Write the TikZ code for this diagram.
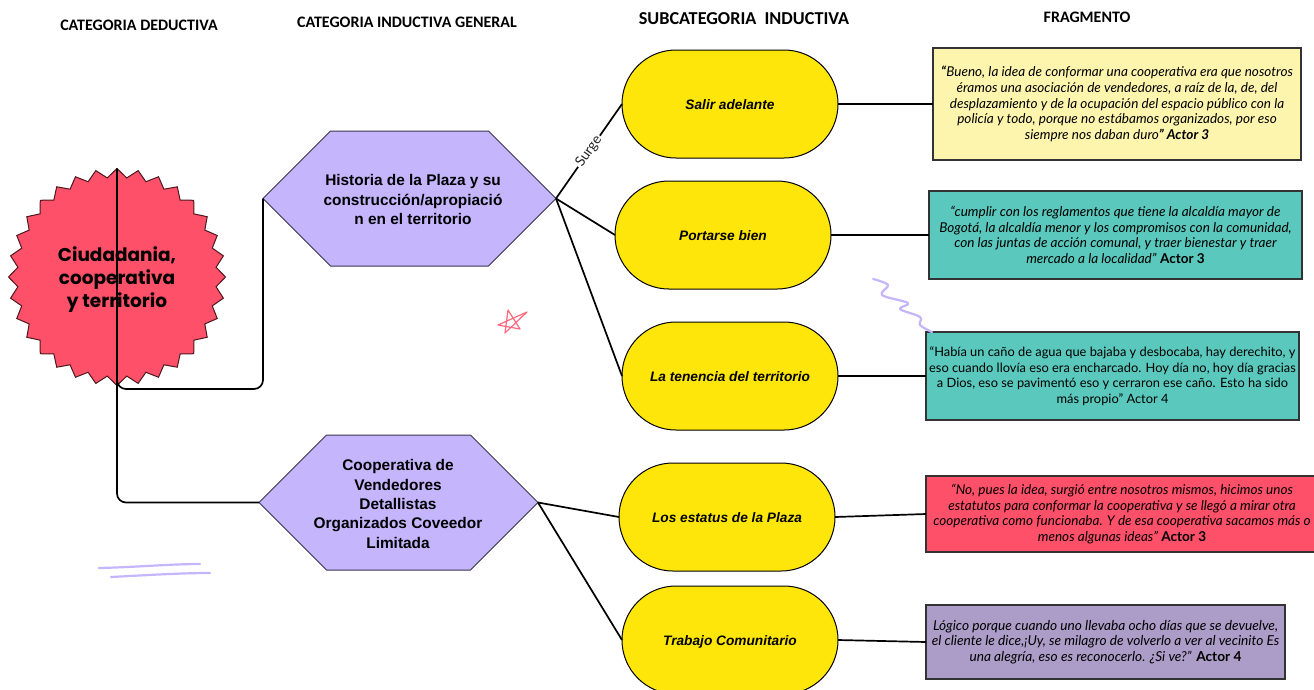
\documentclass[tikz,border=0pt]{standalone}
\usepackage{fontspec}
\setmainfont{Lato}
\newfontfamily\headfont{Carlito}
\newfontfamily\sealfont{Poppins}
\newfontfamily\labelfont{Liberation Sans}
\usetikzlibrary{shapes.geometric,shapes.symbols}
\definecolor{sealred}{HTML}{FE5068}
\definecolor{ovalyellow}{HTML}{FFE60A}
\definecolor{hexlilac}{HTML}{C4B5FD}
\definecolor{paleyellow}{HTML}{FDF5AE}
\definecolor{quoteteal}{HTML}{5AC8BC}
\definecolor{quotepurple}{HTML}{AC9CC8}
\definecolor{inkgray}{HTML}{333333}
\tikzset{
  head/.style={font=\headfont\bfseries\fontsize{16}{18}\selectfont},
  seal/.style={star, star points=32, star point ratio=1.09, minimum size=217, inner sep=0, outer sep=0,
    draw=black!70!sealred, line width=1, fill=sealred},
  sealtext/.style={align=center, inner sep=0, font=\sealfont\bfseries\fontsize{18.5}{23}\selectfont},
  hexa/.style={signal, signal to=west and east, signal pointer angle=90, inner sep=0, outer sep=0,
    draw=black!70!hexlilac, line width=1, fill=hexlilac, minimum height=135},
  hexatext/.style={align=center, inner sep=0, font=\labelfont\bfseries\fontsize{15.4}{19.4}\selectfont},
  oval/.style={rectangle, rounded corners=53.9, minimum width=216, minimum height=108, inner sep=0, outer sep=0,
    draw=black, line width=1, fill=ovalyellow, align=center, text height=14, text depth=3,
    font=\labelfont\bfseries\itshape\fontsize{13.7}{16}\selectfont},
  quotebox/.style={rectangle, inner sep=0, outer sep=0, draw=inkgray, line width=2, align=center,
    execute at begin node={\rule{0pt}{16pt}},
    font=\fontsize{13.55}{15.6}\selectfont},
  link/.style={draw=black, line width=1.7},
  doodle/.style={draw=hexlilac, line width=2.2, line cap=round, line join=round}
}
\begin{document}
\begin{tikzpicture}[x=1pt,y=-1pt]
  \useasboundingbox (0,0) rectangle (1314,689);
  \node [head] (headded) at (139,25) {CATEGORIA DEDUCTIVA};
  \node [head] (headind) at (407,22) {CATEGORIA INDUCTIVA GENERAL};
  \node [head, font=\headfont\bfseries\fontsize{18.2}{20}\selectfont] (headsub) at (744,19) {SUBCATEGORIA\ \ INDUCTIVA};
  \node [head] (headfra) at (1087,17) {FRAGMENTO};

  \node [seal] (ciudadania) at (117,277) {};
  \node [sealtext] (ciudadaniatext) at (117,280) {Ciudadania,\\cooperativa\\y territorio};
  \node [hexa, minimum width=293] (historia) at (409.5,198.5) {};
  \node [hexatext] (historiatext) at (413,199.5)
    {Historia de la Plaza y su\\construcción/apropiació\\n en el territorio};
  \node [hexa, minimum width=279] (cooperativa) at (398.5,502.5) {};
  \node [hexatext] (cooperativatext) at (398,504)
    {Cooperativa de\\Vendedores\\Detallistas\\Organizados Coveedor\\Limitada};

  \node [oval] (salir) at (730,104) {Salir adelante};
  \node [oval] (portarse) at (723,235) {Portarse bien};
  \node [oval] (tenencia) at (730,376) {La tenencia del territorio};
  \node [oval] (estatus) at (727,517) {Los estatus de la Plaza};
  \node [oval] (trabajo) at (730,640) {Trabajo Comunitario};

  \node [quotebox, fill=paleyellow, minimum width=368, minimum height=112] (fraga) at (1117,104)
    {\textbf{\textit{“}}\textit{Bueno, la idea de conformar una cooperativa era que nosotros}\\
     \textit{éramos una asociación de vendedores, a raíz de la, de, del}\\
     \textit{desplazamiento y de la ocupación del espacio público con la}\\
     \textit{policía y todo, porque no estábamos organizados, por eso}\\
     \textit{siempre nos daban duro}\textbf{\textit{” Actor 3}}};
  \node [quotebox, fill=quoteteal, minimum width=373, minimum height=88] (fragb) at (1115.5,235)
    {\textit{“cumplir con los reglamentos que tiene la alcaldía mayor de}\\
     \textit{Bogotá, la alcaldía menor y los compromisos con la comunidad,}\\
     \textit{con las juntas de acción comunal, y traer bienestar y traer}\\
     \textit{mercado a la localidad”} \textbf{Actor 3}};
  \node [quotebox, fill=quoteteal, minimum width=373, minimum height=88,
    font=\fontsize{12.85}{15.6}\selectfont] (fragc) at (1112.5,376)
    {“Había un caño de agua que bajaba y desbocaba, hay derechito, y\\
     eso cuando llovía eso era encharcado. Hoy día no, hoy día gracias\\
     a Dios, eso se pavimentó eso y cerraron ese caño. Esto ha sido\\
     más propio” Actor 4};
  \node [quotebox, fill=sealred, minimum width=392, minimum height=76] (fragd) at (1122,514)
    {\textit{“No, pues la idea, surgió entre nosotros mismos, hicimos unos}\\
     \textit{estatutos para conformar la cooperativa y se llegó a mirar otra}\\
     \textit{cooperativa como funcionaba. Y de esa cooperativa sacamos más o}\\
     \textit{menos algunas ideas”} \textbf{Actor 3}};
  \node [quotebox, fill=quotepurple, minimum width=359, minimum height=74,
    font=\fontsize{13.7}{15.6}\selectfont] (frage) at (1105.5,642)
    {\textit{Lógico porque cuando uno llevaba ocho días que se devuelve,}\\
     \textit{el cliente le dice,¡Uy, se milagro de volverlo a ver al vecinito Es}\\
     \textit{una alegría, eso es reconocerlo. ¿Si ve?”} \textbf{Actor 4}};

  \coordinate (turn) at (263,389);
  \draw [link, rounded corners=9] (ciudadania.north) |- (cooperativa.west);
  \draw [link, rounded corners=9] (ciudadania.south) |- (turn) -- (historia.west);
  \draw [link] (historia.east) -- node [sloped, fill=white, inner sep=1.5, text=black!85,
    font=\fontsize{14}{15}\selectfont] (surge) {Surge} (salir.west);
  \draw [link] (historia.east) -- (portarse.west);
  \draw [link] (historia.east) -- (tenencia.west);
  \draw [link] (cooperativa.east) -- (estatus.west);
  \draw [link] (cooperativa.east) -- (trabajo.west);
  \draw [link] (salir.east) -- (fraga.west);
  \draw [link] (portarse.east) -- (fragb.west);
  \draw [link] (tenencia.east) -- (fragc.west);
  \draw [link] (estatus.east) -- (fragd.west);
  \draw [link] (trabajo.east) -- (frage.west);

  \draw [draw=sealred!85, line width=1.2, line join=round]
    (508,310) -- (520,329) -- (498,325) -- (527,312) -- (505,333) -- cycle;
  \draw [doodle] plot [smooth, tension=0.6] coordinates
    {(873,279) (888,285) (882,295) (908,303) (900,309) (920,317) (920,325) (932,332)};
  \draw [doodle] (99,568) .. controls (140,567) and (170,564) .. (200,564);
  \draw [doodle] (111,577) .. controls (150,575) and (180,573) .. (210,573);
\end{tikzpicture}
\end{document}
